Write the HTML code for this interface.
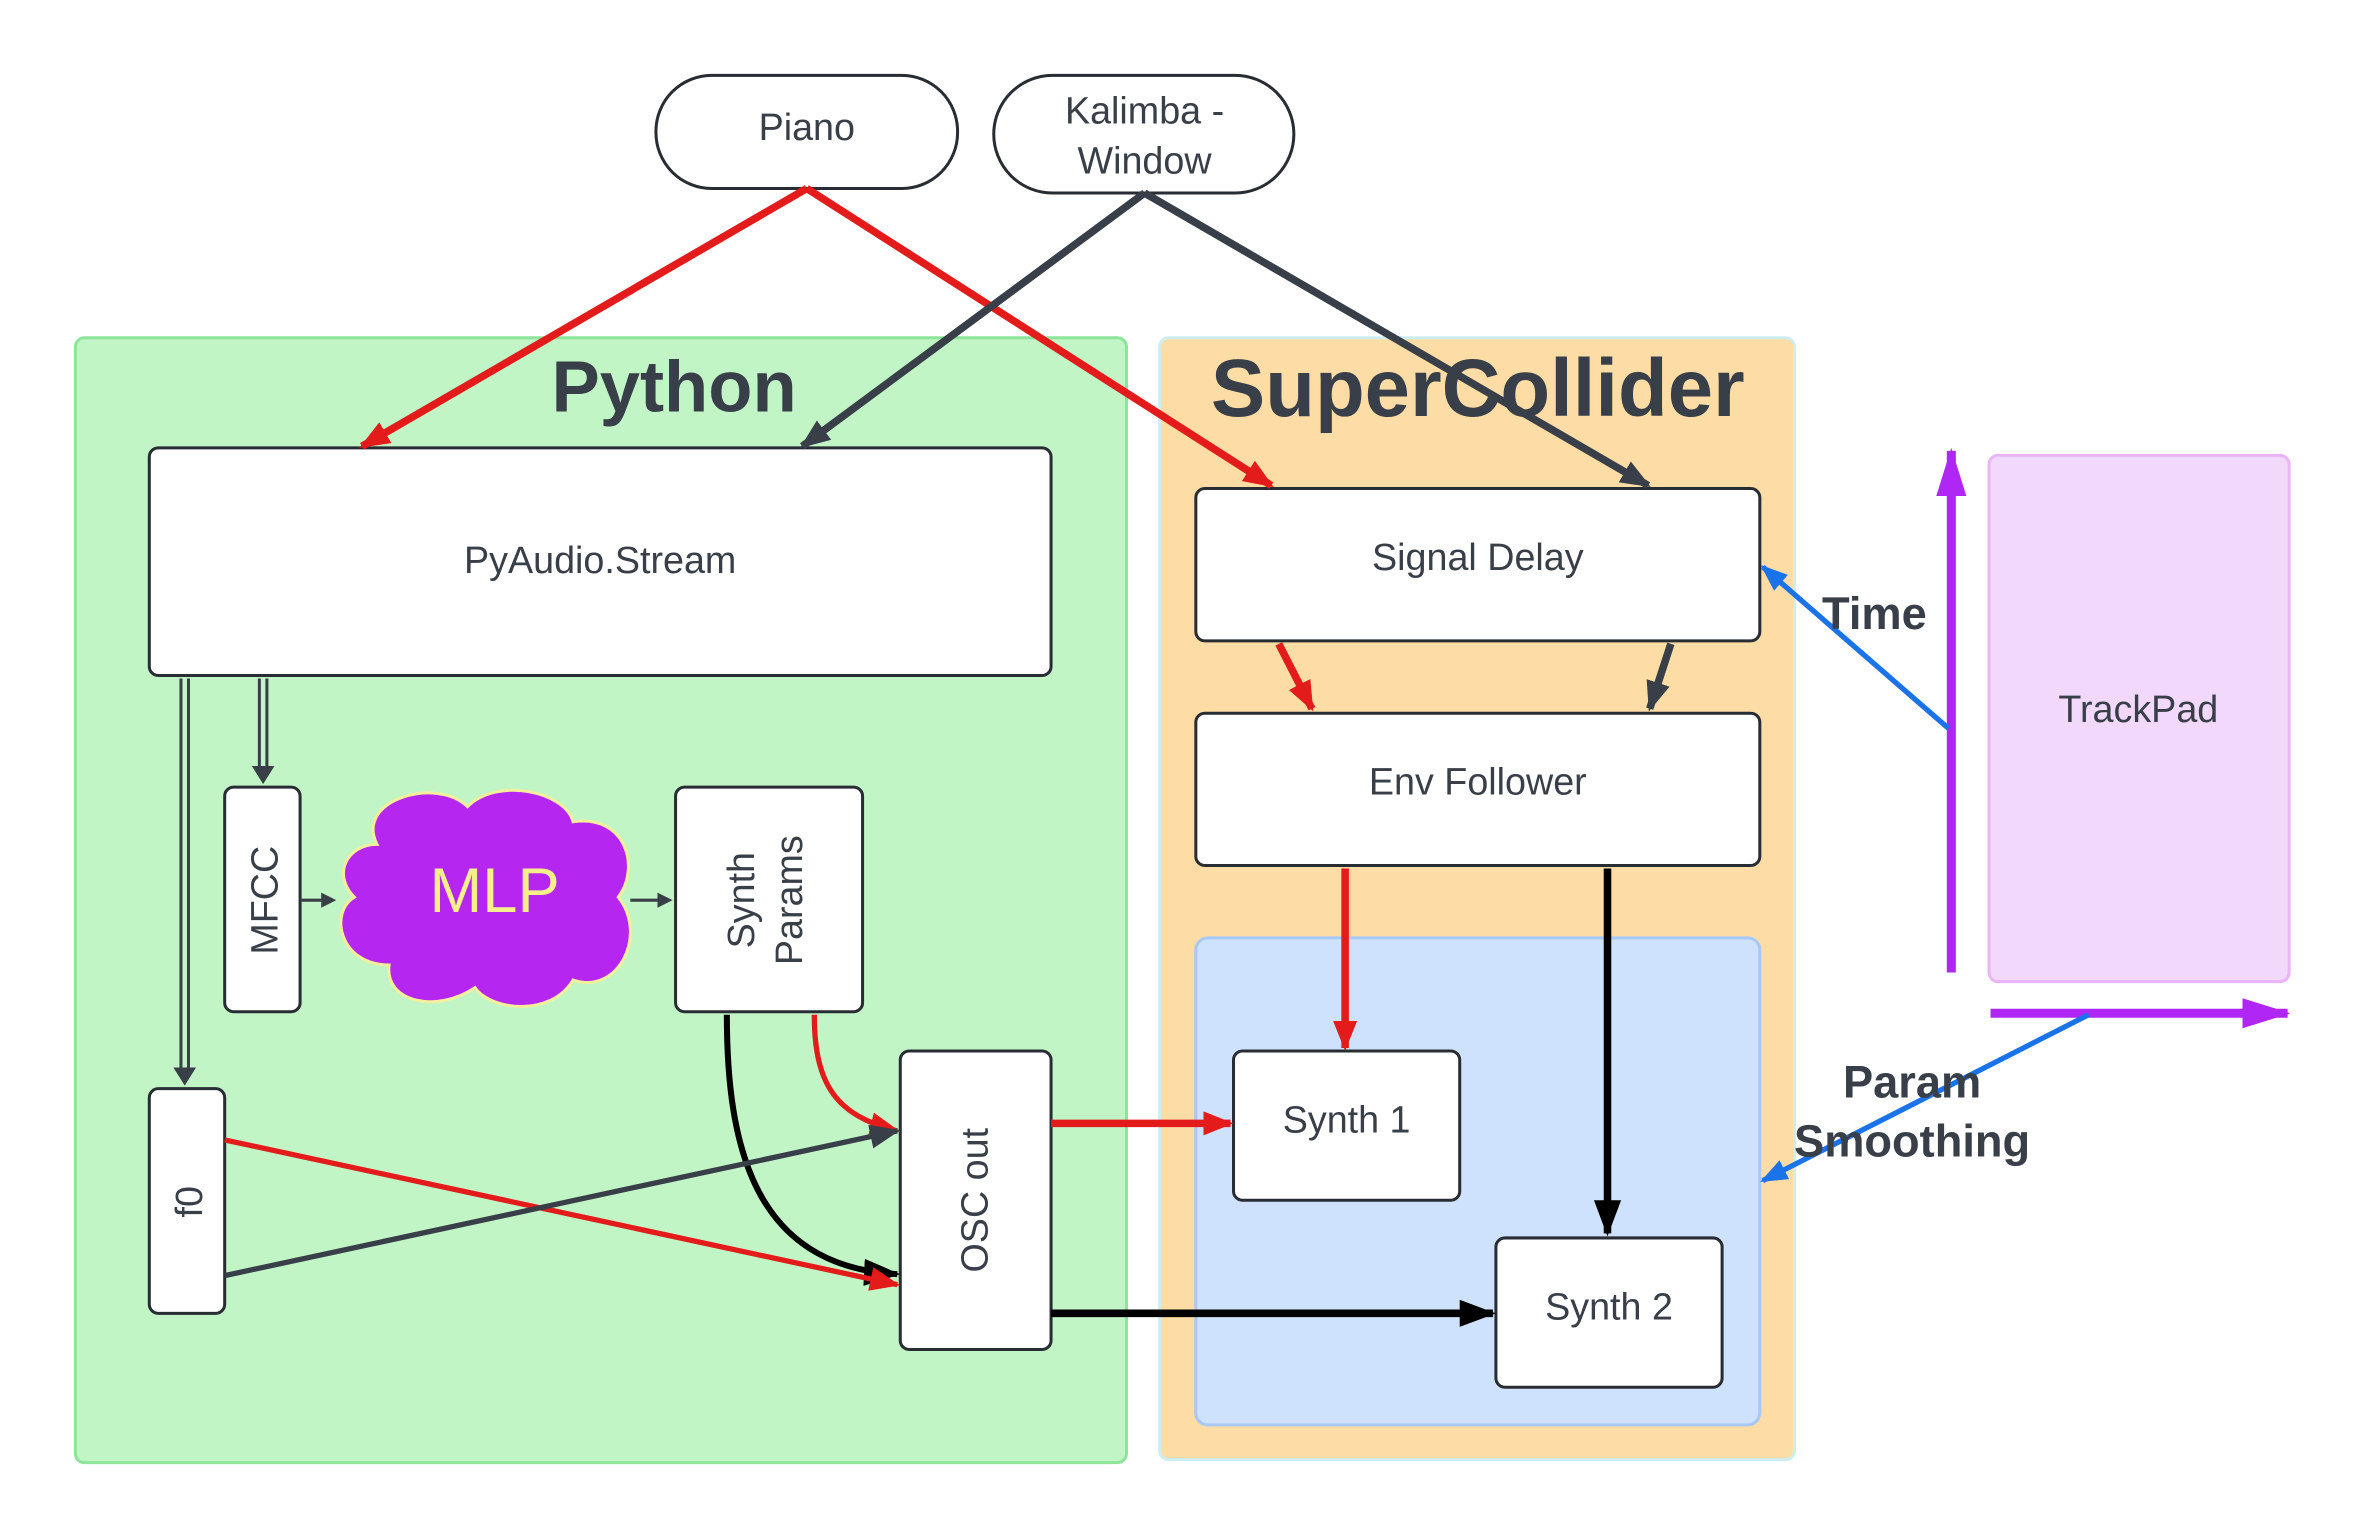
<!DOCTYPE html>
<html><head><meta charset="utf-8"><style>html,body{margin:0;padding:0;background:#fff}svg{display:block}</style></head>
<body>
<svg width="2363" height="1538" viewBox="0 0 1567 1020" preserveAspectRatio="none" xmlns="http://www.w3.org/2000/svg" font-family="Liberation Sans, sans-serif">
<defs>
<marker id="ar" markerWidth="20" markerHeight="16" refX="18" refY="8" orient="auto" markerUnits="userSpaceOnUse" viewBox="0 0 20 16"><path d="M0,0 L20,8 L0,16 z" fill="#e31b1b"/></marker>
<marker id="ad" markerWidth="20" markerHeight="16" refX="18" refY="8" orient="auto" markerUnits="userSpaceOnUse" viewBox="0 0 20 16"><path d="M0,0 L20,8 L0,16 z" fill="#383f48"/></marker>
<marker id="ab" markerWidth="24" markerHeight="18" refX="22" refY="9" orient="auto" markerUnits="userSpaceOnUse" viewBox="0 0 24 18"><path d="M0,0 L24,9 L0,18 z" fill="#000"/></marker>
<marker id="ap" markerWidth="32" markerHeight="20" refX="30" refY="10" orient="auto" markerUnits="userSpaceOnUse" viewBox="0 0 32 20"><path d="M0,0 L32,10 L0,20 z" fill="#b026f5"/></marker>
<marker id="au" markerWidth="18" markerHeight="14" refX="16" refY="7" orient="auto" markerUnits="userSpaceOnUse" viewBox="0 0 18 14"><path d="M0,0 L18,7 L0,14 z" fill="#1a73e8"/></marker>
</defs>
<rect x="50" y="224" width="697" height="746" rx="6" fill="#c2f5c6" stroke="#8ee49a" stroke-width="2"/>
<rect x="769" y="224" width="421" height="744" rx="6" fill="#fddda5" stroke="#cdeef0" stroke-width="2"/>
<rect x="793" y="622" width="374" height="323" rx="8" fill="#cfe2fd" stroke="#a8c8f5" stroke-width="2"/>
<rect x="1319" y="302" width="199" height="349" rx="6" fill="#f2d8fb" stroke="#eab5f8" stroke-width="2"/>
<text x="447" y="273" font-size="48" font-weight="bold" fill="#383f48" text-anchor="middle">Python</text>
<text x="980" y="276" font-size="54" font-weight="bold" fill="#383f48" text-anchor="middle">SuperCollider</text>
<g fill="#fff" stroke="#282c33" stroke-width="2">
<rect x="435" y="50" width="200" height="75" rx="37"/>
<rect x="659" y="50" width="199" height="78" rx="39"/>
<rect x="99" y="297" width="598" height="151" rx="6"/>
<rect x="793" y="324" width="374" height="101" rx="6"/>
<rect x="793" y="473" width="374" height="101" rx="6"/>
<rect x="818" y="697" width="150" height="99" rx="6"/>
<rect x="992" y="821" width="150" height="99" rx="6"/>
<rect x="149" y="522" width="50" height="149" rx="6"/>
<rect x="448" y="522" width="124" height="149" rx="6"/>
<rect x="99" y="722" width="50" height="149" rx="6"/>
<rect x="597" y="697" width="100" height="198" rx="6"/>
</g>
<g font-size="25" fill="#383f48" text-anchor="middle">
<text x="535" y="93">Piano</text>
<text x="759" y="82">Kalimba -</text>
<text x="759" y="115">Window</text>
<text x="398" y="380">PyAudio.Stream</text>
<text x="980" y="378">Signal Delay</text>
<text x="980" y="527">Env Follower</text>
<text x="893" y="751">Synth 1</text>
<text x="1067" y="875">Synth 2</text>
<text x="1418" y="479">TrackPad</text>
<text transform="translate(184,597) rotate(-90)">MFCC</text>
<text transform="translate(500,597) rotate(-90)">Synth</text>
<text transform="translate(532,597) rotate(-90)">Params</text>
<text transform="translate(134,797) rotate(-90)">f0</text>
<text transform="translate(655,796) rotate(-90)">OSC out</text>
</g>
<path d="M250,560 C235,530 290,515 310,535 C330,515 375,525 380,545 C415,540 425,575 410,595 C430,620 410,660 380,650 C365,675 325,670 315,655 C290,672 255,665 258,640 C225,640 218,605 235,595 C220,580 230,560 250,560 Z" fill="#b526f0" stroke="#f4ef9a" stroke-width="2"/>
<text x="328" y="605" font-size="42" fill="#f5f08a" text-anchor="middle">MLP</text>
<g fill="none" stroke-width="5">
<line x1="535" y1="125" x2="240" y2="296" stroke="#e31b1b" marker-end="url(#ar)"/>
<line x1="535" y1="125" x2="843" y2="322" stroke="#e31b1b" marker-end="url(#ar)"/>
<line x1="759" y1="128" x2="532" y2="296" stroke="#383f48" marker-end="url(#ad)"/>
<line x1="759" y1="128" x2="1093" y2="322" stroke="#383f48" marker-end="url(#ad)"/>
<line x1="848" y1="427" x2="870" y2="470" stroke="#e31b1b" marker-end="url(#ar)"/>
<line x1="1108" y1="427" x2="1094" y2="470" stroke="#383f48" marker-end="url(#ad)"/>
<line x1="892" y1="576" x2="892" y2="695" stroke="#e31b1b" marker-end="url(#ar)"/>
<line x1="1066" y1="576" x2="1066" y2="818" stroke="#000" marker-end="url(#ab)"/>
<line x1="697" y1="745" x2="816" y2="745" stroke="#e31b1b" marker-end="url(#ar)"/>
<line x1="697" y1="871" x2="990" y2="871" stroke="#000" marker-end="url(#ab)"/>
<path d="M482,673 C482,760 500,840 595,845" stroke="#000" stroke-width="4" marker-end="url(#ab)"/>
<path d="M540,673 C540,720 555,740 595,750" stroke="#e31b1b" stroke-width="3.5" marker-end="url(#ar)"/>
<line x1="149" y1="756" x2="595" y2="852" stroke="#e31b1b" stroke-width="3.5" marker-end="url(#ar)"/>
<line x1="149" y1="846" x2="595" y2="750" stroke="#383f48" stroke-width="3.5" marker-end="url(#ad)"/>
<line x1="1294" y1="645" x2="1294" y2="299" stroke="#b026f5" stroke-width="6" marker-end="url(#ap)"/>
<line x1="1320" y1="672" x2="1517" y2="672" stroke="#b026f5" stroke-width="6" marker-end="url(#ap)"/>
<line x1="1292" y1="483" x2="1169" y2="376" stroke="#1a73e8" stroke-width="3.5" marker-end="url(#au)"/>
<line x1="1385" y1="673" x2="1169" y2="783" stroke="#1a73e8" stroke-width="3.5" marker-end="url(#au)"/>
</g>
<g stroke="#383f48" stroke-width="2" fill="none">
<line x1="120" y1="450" x2="120" y2="712"/><line x1="125" y1="450" x2="125" y2="712"/>
<line x1="172" y1="450" x2="172" y2="512"/><line x1="177" y1="450" x2="177" y2="512"/>
<line x1="199" y1="597" x2="215" y2="597"/><line x1="418" y1="597" x2="438" y2="597"/>
</g>
<g fill="#383f48">
<path d="M115,708 L130,708 L122.5,720 z"/><path d="M167,508 L182,508 L174.5,520 z"/>
<path d="M213,592 L223,597 L213,602 z"/><path d="M436,592 L446,597 L436,602 z"/>
</g>
<g font-size="30" font-weight="bold" fill="#383f48" text-anchor="middle">
<text x="1243" y="417">Time</text>
<text x="1268" y="728">Param</text>
<text x="1268" y="767">Smoothing</text>
</g>
</svg>
</body></html>
